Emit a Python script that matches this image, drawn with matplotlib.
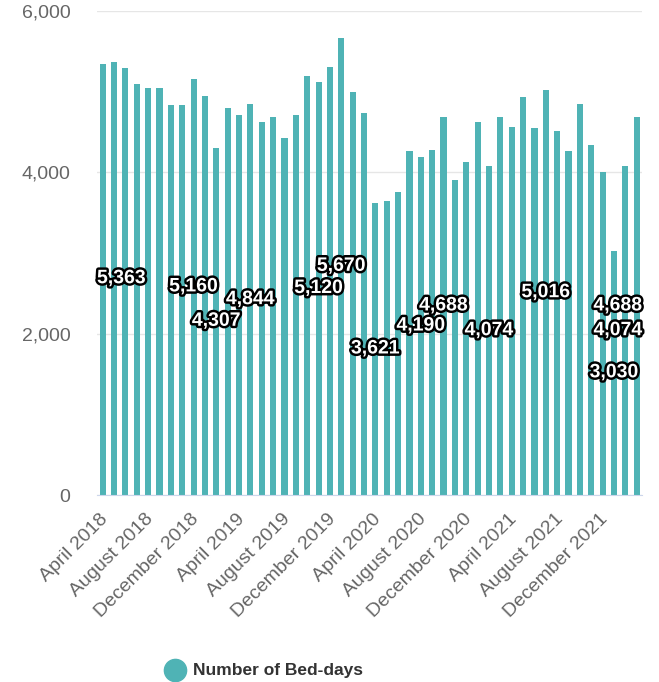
import matplotlib
matplotlib.use("Agg")
import matplotlib.pyplot as plt
import matplotlib.patheffects as pe
import matplotlib.transforms as mtransforms
from matplotlib.lines import Line2D
from matplotlib.ticker import FuncFormatter
import pandas as pd

plt.rcParams['font.family'] = ['Liberation Sans', 'DejaVu Sans']

months = [d.strftime('%B %Y') for d in pd.date_range('2018-04-01', periods=48, freq='MS')]
bed_days = [5340, 5363, 5290, 5090, 5050, 5050, 4840, 4840, 5160, 4950,
            4307, 4800, 4710, 4844, 4630, 4690, 4420, 4710, 5200, 5120,
            5310, 5670, 5000, 4730, 3621, 3650, 3760, 4270, 4190, 4280,
            4688, 3910, 4130, 4630, 4074, 4690, 4560, 4930, 4550, 5016,
            4510, 4270, 4850, 4340, 4000, 3030, 4074, 4688]
labelled = [1, 8, 10, 13, 19, 21, 24, 28, 30, 34, 39, 45, 46, 47]
yticks = [0, 2000, 4000, 6000]
series_name = 'Number of Bed-days'

W, H = 659, 682
fig = plt.figure(figsize=(W / 100, H / 100), dpi=100)
ax = fig.add_axes([97 / W, 1 - 495 / H, (642.4 - 97) / W, (495 - 11) / H])

color = '#4fb3b5'
x = list(range(len(bed_days)))
ax.bar(x, bed_days, width=0.54, color=color, zorder=2)
ax.set_xlim(-0.5, len(bed_days) - 0.5)
ax.set_ylim(0, 6000)
ax.set_yticks(yticks)
ax.yaxis.set_major_formatter(FuncFormatter(lambda v, p: f'{int(v):,}'))
ax.grid(axis='y', color='#e6e6e6', lw=1, zorder=0)
for s in ['top', 'right', 'left']:
    ax.spines[s].set_visible(False)
ax.spines['bottom'].set_color('#ccd6eb')
ax.spines['bottom'].set_zorder(3)
ax.tick_params(axis='y', length=0, pad=19, labelsize=14, labelcolor='#666666')
ax.tick_params(axis='x', length=0, pad=11, labelsize=14, labelcolor='#666666')

tick_idx = list(range(0, len(months), 4))
ax.set_xticks(tick_idx)
ax.set_xticklabels([months[i] for i in tick_idx], rotation=45, ha='right',
                   va='top', rotation_mode='anchor')
shift = mtransforms.ScaledTranslation(-3 / 100, 0, fig.dpi_scale_trans)
for lbl in ax.get_xticklabels():
    lbl.set_transform(lbl.get_transform() + shift)

# data labels at half height, kept inside the plot area
texts = []
for i in labelled:
    t = ax.text(i, bed_days[i] / 2, f'{bed_days[i]:,}', ha='center', va='center',
                fontsize=14, fontweight='bold', color='white', zorder=5,
                path_effects=[pe.withStroke(linewidth=3.5, foreground='black')])
    texts.append(t)
fig.canvas.draw()
r = fig.canvas.get_renderer()
axbb = ax.get_window_extent(r)
inv = ax.transData.inverted()
for t in texts:
    bb = t.get_window_extent(r)
    dx = 0
    if bb.x0 < axbb.x0:
        dx = axbb.x0 - bb.x0
    elif bb.x1 > axbb.x1:
        dx = axbb.x1 - bb.x1
    if dx:
        x0, y0 = t.get_position()
        px, py = ax.transData.transform((x0, y0))
        nx, ny = inv.transform((px + dx, py))
        t.set_position((nx, y0))

# legend
fig.add_artist(Line2D([175 / W], [1 - 670 / H], marker='o', markersize=16,
                      color=color, linestyle='none', transform=fig.transFigure))
fig.text(193 / W, 1 - 670 / H, series_name, fontsize=12.5, fontweight='bold',
         color='#333333', va='center', ha='left')

fig.savefig('out.png', dpi=100)
